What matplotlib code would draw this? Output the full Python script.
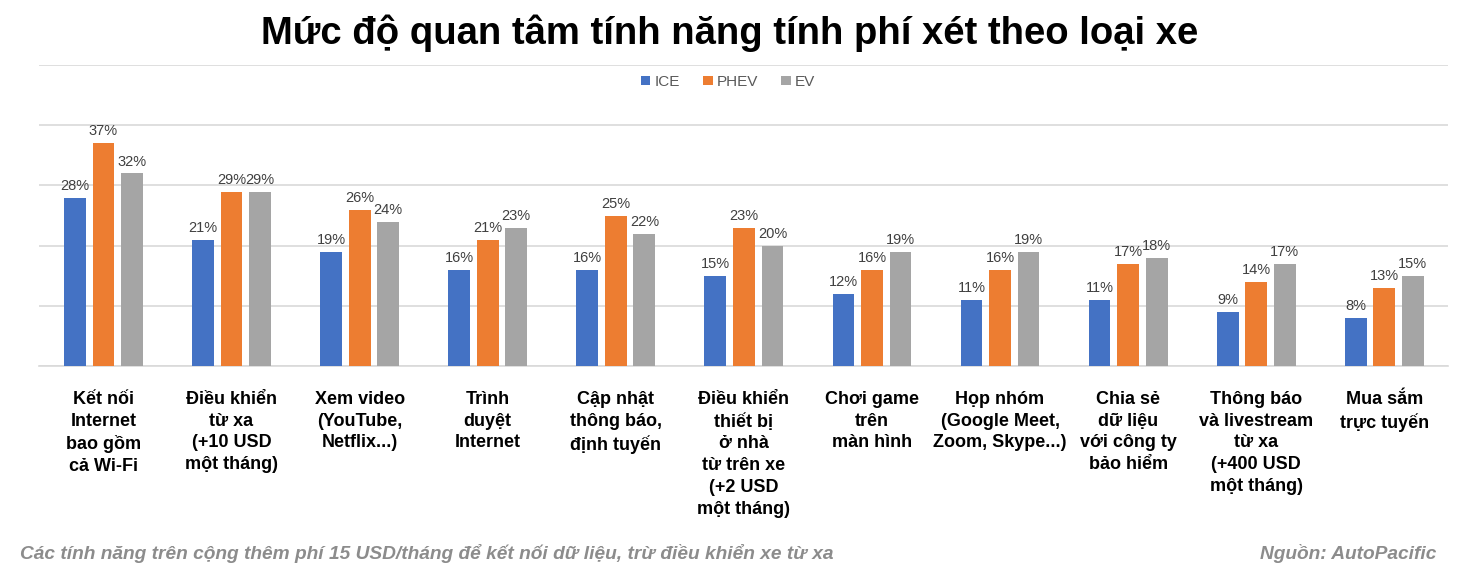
"""Mức độ quan tâm tính năng tính phí theo loại xe - grouped bars."""

import matplotlib
matplotlib.use("Agg")
import matplotlib.pyplot as plt
import numpy as np

plt.rcParams["font.family"] = ["Liberation Sans", "DejaVu Sans"]

categories = [
    "Kết nối\nInternet\nbao gồm\ncả Wi-Fi",
    "Điều khiển\ntừ xa\n(+10 USD\nmột tháng)",
    "Xem video\n(YouTube,\nNetflix...)",
    "Trình\nduyệt\nInternet",
    "Cập nhật\nthông báo,\nđịnh tuyến",
    "Điều khiển\nthiết bị\nở nhà\ntừ trên xe\n(+2 USD\nmột tháng)",
    "Chơi game\ntrên\nmàn hình",
    "Họp nhóm\n(Google Meet,\nZoom, Skype...)",
    "Chia sẻ\ndữ liệu\nvới công ty\nbảo hiểm",
    "Thông báo\nvà livestream\ntừ xa\n(+400 USD\nmột tháng)",
    "Mua sắm\ntrực tuyến",
]
series_names = ["ICE", "PHEV", "EV"]
ice = [28, 21, 19, 16, 16, 15, 12, 11, 11, 9, 8]
phev = [37, 29, 26, 21, 25, 23, 16, 16, 17, 14, 13]
ev = [32, 29, 24, 23, 22, 20, 19, 19, 18, 17, 15]

colors = ["#4472C4", "#ED7D31", "#A5A5A5"]

fig = plt.figure(figsize=(14.6, 5.75), dpi=100)
ax = fig.add_axes([0.027, 0.363, 0.965, 0.524])

x = np.arange(len(categories))
width = 0.17
step = 0.223
for i, (name, vals, col) in enumerate(zip(series_names, [ice, phev, ev], colors)):
    bars = ax.bar(x + (i - 1) * step, vals, width, color=col, label=name, zorder=3)
    for b, v in zip(bars, vals):
        ax.text(b.get_x() + b.get_width() / 2, v + 0.8, f"{v}%",
                ha="center", va="bottom", fontsize=10.5, color="#404040")

ax.set_xlim(-0.5, len(categories) - 0.5)
ax.set_ylim(0, 50)
ax.set_yticks(np.arange(0, 51, 10))
ax.yaxis.grid(True, color="#D9D9D9", linewidth=1.2, zorder=0)
ax.tick_params(axis="y", left=False, labelleft=False)
ax.tick_params(axis="x", bottom=False, pad=14)
ax.set_xticks(x)
ax.set_xticklabels(categories, fontsize=13, fontweight="bold", va="top",
                   linespacing=1.38)
for s in ["top", "right", "left"]:
    ax.spines[s].set_visible(False)
ax.spines["bottom"].set_color("#D9D9D9")
ax.spines["bottom"].set_linewidth(1.2)

ax.legend(loc="center", bbox_to_anchor=(0.489, 0.944), ncol=3, frameon=False,
          fontsize=11, handlelength=0.6, handleheight=0.6, handletextpad=0.3,
          columnspacing=1.5, labelcolor="#595959")

fig.text(0.5, 0.942, "Mức độ quan tâm tính năng tính phí xét theo loại xe",
         ha="center", va="center", fontsize=27.5, fontweight="bold")
fig.text(0.014, 0.038, "Các tính năng trên cộng thêm phí 15 USD/tháng để kết nối dữ liệu, trừ điều khiển xe từ xa",
         ha="left", va="center", fontsize=13.8, style="italic", fontweight="bold",
         color="#8C8C8C")
fig.text(0.984, 0.038, "Nguồn: AutoPacific", ha="right", va="center",
         fontsize=13.8, style="italic", fontweight="bold", color="#8C8C8C")

fig.savefig("out.png", dpi=100)
